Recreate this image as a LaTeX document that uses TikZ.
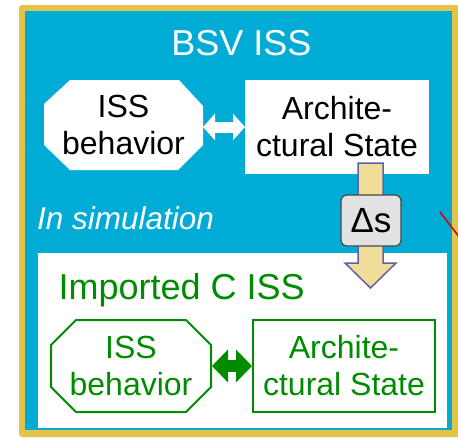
\documentclass[tikz,border=0pt]{standalone}
\usepackage{fontspec}
\setmainfont{Liberation Sans}
\usetikzlibrary{arrows.meta,calc}
\definecolor{bsvblue}{RGB}{0,172,214}
\definecolor{frameyellow}{RGB}{228,196,72}
\definecolor{issgreen}{RGB}{0,140,0}
\definecolor{arrowfill}{RGB}{240,222,152}
\definecolor{arrowline}{RGB}{96,96,168}
\definecolor{deltafill}{RGB}{226,226,226}
\definecolor{deltaline}{RGB}{70,70,70}
\begin{document}
\begin{tikzpicture}[x=1pt,y=-1pt,
  boxtext/.style={font=\fontsize{32}{37}\selectfont, align=center, inner sep=0pt},
  shapebox/.style={inner sep=0pt, outer sep=0pt},
  octpath/.style={line width=2pt},
  greenline/.style={draw=issgreen, line width=2pt},
  bigtitle/.style={font=\fontsize{36}{40}\selectfont, inner sep=0pt}
]
\useasboundingbox (0,0) rectangle (458,437);
% frame
\fill[frameyellow, rounded corners=3pt] (19,5) rectangle (470,437);
\fill[bsvblue] (25,11) rectangle (452,430);
\node[bigtitle, text=white, anchor=base] (title) at (241.5,55) {BSV ISS};

% upper octagon
\node[shapebox, minimum width=159pt, minimum height=90pt] (oct1) at (123.5,125) {};
\fill[white] ([xshift=26pt]oct1.north west) -- ([xshift=-24pt]oct1.north east)
  -- ([yshift=-26pt]oct1.north east) -- ([yshift=25pt]oct1.south east)
  -- ([xshift=-25pt]oct1.south east) -- ([xshift=26pt]oct1.south west)
  -- ([yshift=25pt]oct1.south west) -- ([yshift=-24pt]oct1.north west) -- cycle;
\node[boxtext] (oct1text) at (oct1) {ISS\\behavior};

% upper arch box
\node[shapebox, fill=white, minimum width=184pt, minimum height=94pt] (arch1) at (337,127) {};
\node[boxtext] (arch1text) at (arch1) {Archite-\\ctural State};

\draw[white, line width=11pt, {Triangle[length=12pt,width=26pt]}-{Triangle[length=12pt,width=26pt]}]
  (oct1.east |- arch1.west) -- (arch1.west);

% in simulation
\node[font=\itshape\fontsize{31.5}{36}\selectfont, text=white, inner sep=0pt, anchor=base west] (insim) at (37,229) {In simulation};

% inner white box
\fill[white] (38,253) rectangle (447,428);
\node[bigtitle, text=issgreen, anchor=base west] (ctitle) at (58.5,299) {Imported C ISS};

% lower octagon
\node[shapebox, minimum width=160pt, minimum height=92pt] (oct2) at (131,366) {};
\draw[greenline] ([xshift=25pt]oct2.north west) -- ([xshift=-25pt]oct2.north east)
  -- ([yshift=-25pt]oct2.north east) -- ([yshift=25pt]oct2.south east)
  -- ([xshift=-25pt]oct2.south east) -- ([xshift=25pt]oct2.south west)
  -- ([yshift=25pt]oct2.south west) -- ([yshift=-25pt]oct2.north west) -- cycle;
\node[boxtext, text=issgreen] (oct2text) at (oct2) {ISS\\behavior};

% lower arch box
\node[shapebox, greenline, minimum width=182pt, minimum height=92pt] (arch2) at (344,366) {};
\node[boxtext, text=issgreen] (arch2text) at (arch2) {Archite-\\ctural State};

\draw[issgreen, line width=12pt, {Triangle[length=16pt,width=32pt]}-{Triangle[length=16pt,width=32pt]}]
  ([xshift=1pt]oct2.east) -- ([xshift=-1pt]arch2.west);

% delta arrow
\coordinate (dtop) at (370.5,163);
\coordinate (dtip) at (370.5,288);
\filldraw[fill=arrowfill, draw=arrowline, line width=1.5pt, line join=miter]
  ($(dtop)+(-12.5,0)$) -- ($(dtop)+(12.5,0)$) -- ($(dtip)+(12.5,-25)$) -- ($(dtip)+(25.5,-25)$)
  -- (dtip) -- ($(dtip)+(-25.5,-25)$) -- ($(dtip)+(-12.5,-25)$) -- cycle;
\node[draw=deltaline, fill=deltafill, rounded corners=6pt, line width=1.2pt,
  minimum width=60pt, minimum height=51pt, inner sep=0pt,
  font=\fontsize{35}{40}\selectfont] (ds) at (371,220.5) {Δs};

% red fragment
\draw[red!85!black, line width=1.5pt] (440,212) -- (460,238);
\end{tikzpicture}
\end{document}
